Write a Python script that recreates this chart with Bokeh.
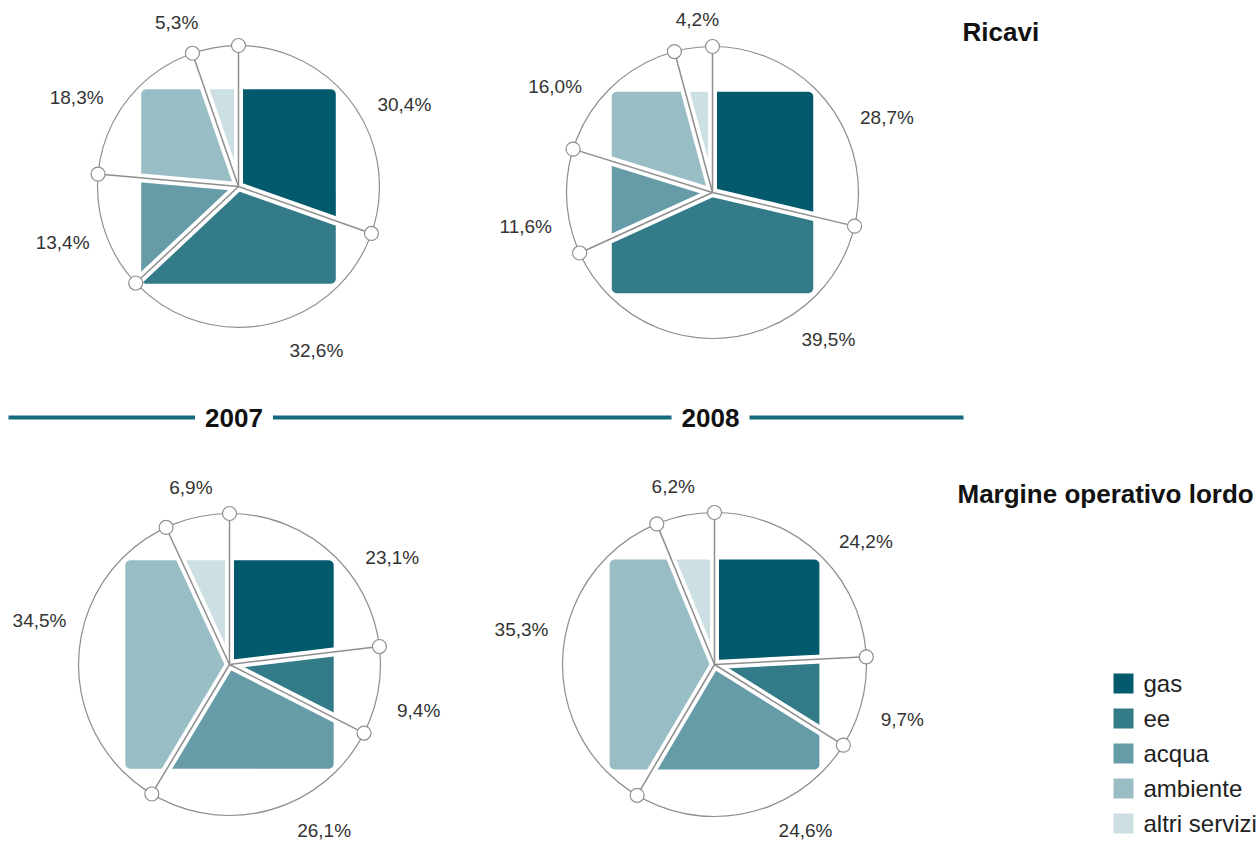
import numpy as np
from bokeh.plotting import figure
from bokeh.models import Range1d
from bokeh.core.properties import value
from bokeh.embed import file_html
from bokeh.resources import INLINE

# ---------------- data ----------------
categories = ["gas", "ee", "acqua", "ambiente", "altri servizi"]
ricavi_2007 = [30.4, 32.6, 13.4, 18.3, 5.3]
ricavi_2008 = [28.7, 39.5, 11.6, 16.0, 4.2]
mol_2007 = [23.1, 9.4, 26.1, 34.5, 6.9]
mol_2008 = [24.2, 9.7, 24.6, 35.3, 6.2]
years = ["2007", "2008"]
sections = ["Ricavi", "Margine operativo lordo"]

# ---------------- style / layout ----------------
colors = ["#035a6c", "#347b89", "#669ca8", "#99bdc5", "#ccdfe3"]
FONT = "Liberation Sans"
GRAY = "#8e8e8e"
TEAL_LINE = "#136a7d"
W, H = 1260, 843

PIES = [
    dict(values=ricavi_2007, cx=238, cy=186, r=141, nudge=[9, -13, 1, -9, -10]),
    dict(values=ricavi_2008, cx=712, cy=192, r=146, nudge=[15, -32, -7, -12, 3]),
    dict(values=mol_2007, cx=229, cy=664, r=151, nudge=[15, 4, -13, 10, 1]),
    dict(values=mol_2008, cx=714, cy=664, r=152, nudge=[7, 2, -14, 6, -1]),
]
SQUARE_RATIO = 0.69
CORNER = 5


def direction(theta_deg):
    t = np.radians(theta_deg)
    return np.sin(t), -np.cos(t)


def rounded_square(cx, cy, h, rad=CORNER, n=7):
    pts = []
    corners = [
        (cx + h - rad, cy - h + rad, -90),
        (cx + h - rad, cy + h - rad, 0),
        (cx - h + rad, cy + h - rad, 90),
        (cx - h + rad, cy - h + rad, 180),
    ]
    for ccx, ccy, a0 in corners:
        for t in np.linspace(a0, a0 + 90, n):
            tr = np.radians(t)
            pts.append((ccx + rad * np.cos(tr), ccy + rad * np.sin(tr)))
    return pts


def clip_half_plane(poly, cx, cy, nx, ny):
    out = []
    m = len(poly)
    for i in range(m):
        p = poly[i]
        q = poly[(i + 1) % m]
        dp = (p[0] - cx) * nx + (p[1] - cy) * ny
        dq = (q[0] - cx) * nx + (q[1] - cy) * ny
        if dp >= 0:
            out.append(p)
        if (dp >= 0) != (dq >= 0):
            t = dp / (dp - dq)
            out.append((p[0] + t * (q[0] - p[0]), p[1] + t * (q[1] - p[1])))
    return out


def wedge_poly(square, cx, cy, a1, a2):
    dmx, dmy = direction((a1 + a2) / 2)
    poly = square
    for a in (a1, a2):
        dx, dy = direction(a)
        nx, ny = -dy, dx
        if nx * dmx + ny * dmy < 0:
            nx, ny = -nx, -ny
        poly = clip_half_plane(poly, cx, cy, nx, ny)
    return poly


def fmt(v):
    return f"{v:.1f}".replace(".", ",") + "%"


p = figure(width=W, height=H, x_range=Range1d(0, W), y_range=Range1d(H, 0),
           output_backend="svg", toolbar_location=None, min_border=0,
           x_axis_type=None, y_axis_type=None, outline_line_color=None,
           background_fill_color="white", border_fill_color="white")
p.grid.visible = False

for pie in PIES:
    vals = pie["values"]
    cx, cy, r = pie["cx"], pie["cy"], pie["r"]
    total = sum(vals)
    cum = np.concatenate([[0], np.cumsum(vals)]) / total * 360.0
    square = rounded_square(cx, cy, SQUARE_RATIO * r)
    xs, ys = [], []
    for i in range(len(vals)):
        poly = wedge_poly(square, cx, cy, cum[i], cum[i + 1])
        xs.append([q[0] for q in poly])
        ys.append([q[1] for q in poly])
    p.patches(xs, ys, fill_color=colors, line_color=None)

    bx0, by0, bx1, by1 = [], [], [], []
    for a in cum[:-1]:
        dx, dy = direction(a)
        bx0.append(cx); by0.append(cy)
        bx1.append(cx + r * dx); by1.append(cy + r * dy)
    p.segment(bx0, by0, bx1, by1, line_color="white", line_width=9)
    p.circle(x=[cx], y=[cy], radius=r, fill_color=None, line_color=GRAY, line_width=1.2)
    p.segment(bx0, by0, bx1, by1, line_color=GRAY, line_width=1.5)
    p.scatter(bx1, by1, size=14, marker="circle", fill_color="white",
              line_color=GRAY, line_width=1.2)

    lx, ly, lt = [], [], []
    for i, v in enumerate(vals):
        mid = (cum[i] + cum[i + 1]) / 2 + pie["nudge"][i]
        dx, dy = direction(mid)
        if dy < 0:
            ry = r + 26 + 20 * abs(dx)
        else:
            ry = r + 40
        lx.append(cx + (r + 44) * dx)
        ly.append(min(cy + ry * dy, H - 13))
        lt.append(fmt(v))
    p.text(lx, ly, text=lt, text_font=value(FONT), text_font_size="19px",
           text_align="center", text_baseline="middle", text_color="#333333")

# year divider
year_x = [(PIES[0]["cx"] + PIES[2]["cx"]) / 2, (PIES[1]["cx"] + PIES[3]["cx"]) / 2 - 3]
gap = 39
line_y = 417
seg_x0 = [8, year_x[0] + gap, year_x[1] + gap]
seg_x1 = [year_x[0] - gap, year_x[1] - gap, 963]
p.segment(seg_x0, [line_y] * 3, seg_x1, [line_y] * 3, line_color=TEAL_LINE, line_width=4)
p.text(year_x, [line_y, line_y], text=years, text_font=value(FONT), text_font_size="26px",
       text_font_style="bold", text_align="center", text_baseline="middle", text_color="#111111")

# section titles
p.text([962, 957], [31, 493], text=sections, text_font=value(FONT), text_font_size="26px",
       text_font_style="bold", text_align="left", text_baseline="middle", text_color="#111111")

# legend
leg_y = [683 + 35 * i for i in range(len(categories))]
p.rect(x=[1123] * len(categories), y=leg_y, width=20, height=20, fill_color=colors, line_color=None)
p.text([1143] * len(categories), leg_y, text=categories, text_font=value(FONT),
       text_font_size="24px", text_align="left", text_baseline="middle", text_color="#222222")

open("out.html", "w").write(file_html(p, INLINE))
